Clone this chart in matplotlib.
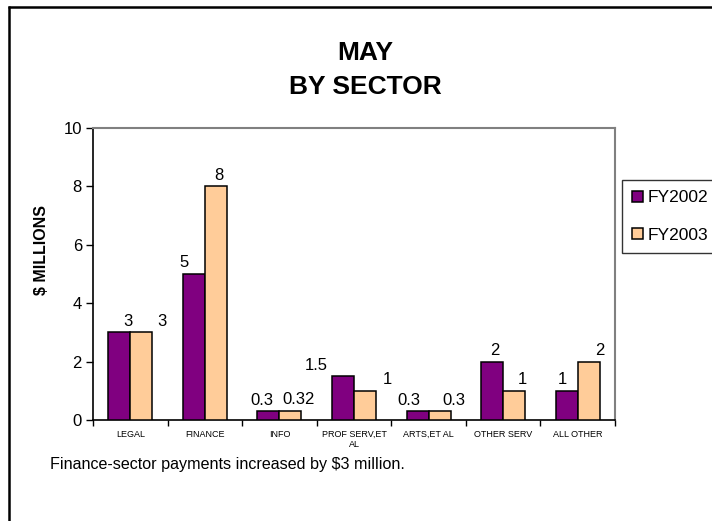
import numpy as np
import matplotlib
matplotlib.use("Agg")
import matplotlib.pyplot as plt
from matplotlib.lines import Line2D

plt.rcParams['font.family'] = ['Liberation Sans', 'DejaVu Sans']

# data
sectors = ['LEGAL', 'FINANCE', 'INFO', 'PROF SERV,ET\nAL', 'ARTS,ET AL',
           'OTHER SERV', 'ALL OTHER']
fy2002 = [3, 5, 0.3, 1.5, 0.3, 2, 1]
fy2003 = [3, 8, 0.32, 1, 0.3, 1, 2]
labels2002 = ['3', '5', '0.3', '1.5', '0.3', '2', '1']
labels2003 = ['3', '8', '0.32', '1', '0.3', '1', '2']
series_names = ['FY2002', 'FY2003']

# label nudges (points) to mimic the hand-placed Excel labels
nudge2002 = [6, -7, -5, -19, -6, 2, -3]
nudge2003 = [15, 2, 6, 16, 10, 6, 8]

fig = plt.figure(figsize=(7.12, 5.21), dpi=100)
ax = fig.add_axes([93 / 712, 1 - 420 / 521, (615 - 93) / 712, (420 - 128) / 521])

x = np.arange(len(sectors))
w = 0.295
b1 = ax.bar(x - w / 2, fy2002, w, color='#800080', edgecolor='black', linewidth=1.1,
            label=series_names[0], zorder=3)
b2 = ax.bar(x + w / 2, fy2003, w, color='#FFCC99', edgecolor='black', linewidth=1.1,
            label=series_names[1], zorder=3)

for i in range(len(sectors)):
    ax.annotate(labels2002[i], (x[i] - w / 2, fy2002[i]), xytext=(nudge2002[i], 8),
                textcoords='offset points', ha='center', va='center', fontsize=12)
    ax.annotate(labels2003[i], (x[i] + w / 2, fy2003[i]), xytext=(nudge2003[i], 8),
                textcoords='offset points', ha='center', va='center', fontsize=12)

ax.set_xlim(-0.5, len(sectors) - 0.5)
ax.set_ylim(0, 10)
ax.set_yticks([0, 2, 4, 6, 8, 10])
ax.tick_params(axis='y', labelsize=12, length=5, width=1, direction='out', pad=3)

# category boundaries carry the tick marks, names sit between them
ax.set_xticks(np.arange(-0.5, len(sectors), 1.0))
ax.set_xticklabels([])
ax.set_xticks(x, minor=True)
ax.set_xticklabels(sectors, minor=True, fontsize=6.5)
ax.tick_params(axis='x', which='major', length=4, width=1, direction='out')
ax.tick_params(axis='x', which='minor', length=0, pad=7)

for s in ['left', 'bottom']:
    ax.spines[s].set_color('black')
    ax.spines[s].set_linewidth(1.2)
for s in ['top', 'right']:
    ax.spines[s].set_color('#808080')
    ax.spines[s].set_linewidth(1.5)

fig.text(365 / 712, 1 - 70 / 521, 'MAY\nBY SECTOR', ha='center', va='center',
         fontsize=19, fontweight='bold', linespacing=1.5)
fig.text(42 / 712, 1 - 250 / 521, '$ MILLIONS', rotation=90, ha='center', va='center',
         fontsize=11.5, fontweight='bold')
fig.text(50 / 712, 1 - 465 / 521, 'Finance-sector payments increased by $3 million.',
         ha='left', va='center', fontsize=11.6)

leg = fig.legend(handles=[b1, b2], loc='upper left',
                 bbox_to_anchor=(622 / 712, 1 - 180 / 521), borderaxespad=0,
                 fontsize=12.5, frameon=True, fancybox=False, edgecolor='black',
                 handlelength=0.6, handleheight=0.6, handletextpad=0.25,
                 labelspacing=1.3, borderpad=0.6)
leg.get_frame().set_linewidth(1.0)

# outer chart border (top and left edges are visible)
fig.add_artist(Line2D([8 / 712, 1], [1 - 6.5 / 521] * 2, color='black', lw=1.8,
                      solid_capstyle='butt', transform=fig.transFigure))
fig.add_artist(Line2D([8.5 / 712] * 2, [1 - 6 / 521, 0], color='black', lw=1.8,
                      solid_capstyle='butt', transform=fig.transFigure))

fig.savefig('out.png', dpi=100, facecolor='white')
